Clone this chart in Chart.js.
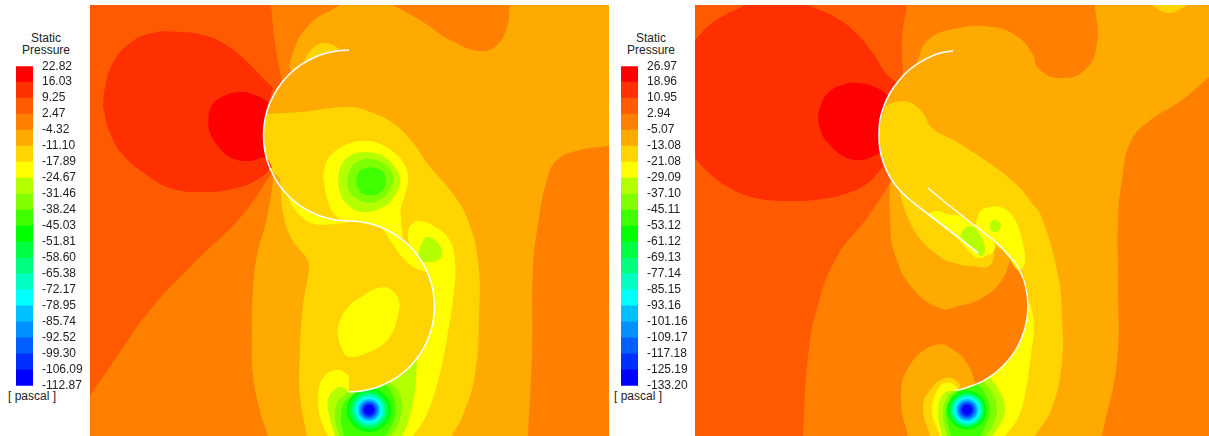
<!DOCTYPE html>
<html>
<head>
<meta charset="utf-8">
<script src="https://cdn.jsdelivr.net/npm/chart.js@4"></script>
<style>
body { margin: 0; background: #fff; width: 1209px; height: 436px; overflow: hidden; position: relative; }
canvas { position: absolute; }
.txt { position: absolute; font: 12px/11.5px "Liberation Sans", Arial, sans-serif; color: #222; text-align: center; white-space: nowrap; }
</style>
</head>
<body>
<div class="txt" style="left:16px;top:33px;width:60px">Static<br>Pressure</div>
<div class="txt" style="left:2px;top:391px;width:60px">[ pascal ]</div>
<div class="txt" style="left:621px;top:33px;width:60px">Static<br>Pressure</div>
<div class="txt" style="left:608px;top:391px;width:60px">[ pascal ]</div>
<canvas id="legendA" width="90" height="352" style="left:0;top:50px"></canvas>
<canvas id="legendB" width="90" height="352" style="left:605px;top:50px"></canvas>
<canvas id="fieldA" width="519" height="431" style="left:90px;top:5px"></canvas>
<canvas id="fieldB" width="514" height="431" style="left:695px;top:5px"></canvas>
<script>
// legend levels, top to bottom
const ticksA = ['22.82','16.03','9.25','2.47','-4.32','-11.10','-17.89','-24.67','-31.46','-38.24','-45.03','-51.81','-58.60','-65.38','-72.17','-78.95','-85.74','-92.52','-99.30','-106.09','-112.87'];
const ticksB = ['26.97','18.96','10.95','2.94','-5.07','-13.08','-21.08','-29.09','-37.10','-45.11','-53.12','-61.12','-69.13','-77.14','-85.15','-93.16','-101.16','-109.17','-117.18','-125.19','-133.20'];
const bands = ['#ff0000','#ff3000','#ff5a00','#ff8000','#ffaa00','#ffd400','#ffff00','#b4ff00','#80ff00','#40ff00','#00ff00','#00ff40','#00ff80','#00ffc0','#00ffff','#00c0ff','#0090ff','#0060ff','#0030ff','#0000ff'];

// contour outlines, in the x / y units of each panel. a repeated point is a corner
const aBlade = [[349,50],[337.8,50.7],[326.9,52.9],[316.3,56.5],[301.5,64.4],[288.5,75],[277.9,88],[270,102.8],[265.1,118.8],[263.5,135.5],[265.1,152.2],[270,168.2],[277.9,183],[288.5,196],[301.5,206.6],[316.3,214.5],[326.9,218.1],[337.8,220.3],[349,221],[360.2,221.7],[371.1,223.9],[381.7,227.5],[396.5,235.4],[409.5,246],[420.1,259],[428,273.8],[432.9,289.8],[434.5,306.5],[432.9,323.2],[428,339.2],[420.1,354],[409.5,367],[396.5,377.6],[381.7,385.5],[371.1,389.1],[360.2,391.3],[349,392]];
const aBase = [[90,5],[609,5],[609,436],[90,436]];
const aAmber = [[340,5],[340,5],[393,5],[393,5],[423,22],[450,40],[480,51],[497,45],[507,27],[510,5],[510,5],[609,5],[609,5],[609,146],[609,146],[580,150],[557,160],[547,180],[539,218],[533,268],[532,351],[528,436],[528,436],[268,436],[268,436],[260,411],[253,375],[252,335],[253,291],[257,255],[267,218],[274,175],[274,175],[270,168],[263.5,135.5],[270,103],[288.5,75],[292,73],[292,73],[290,63],[307,27],[340,5]];
const aGold = [[265,114],[265,114],[300,112],[350,107],[370,112],[393,123],[413,143],[430,167],[450,190],[467,218],[478,261],[479,318],[475,375],[463,415],[452,436],[452,436],[307,436],[307,436],[300,395],[300,351],[303,305],[308,275],[308,261],[293,241],[284,218],[280,178],[280,178],[270,168],[263.5,135.5],[265,114]];
const aBump = [[302,65],[302,65],[313,48],[327,43],[340,49],[340,49],[316,56],[302,65]];
const aCrescent = [[288,197],[288,197],[292,205],[303,218],[315,224],[335,224],[349,222],[349,222],[316,214.5],[288,197]];
const aDisc = [[323,177],[326,163],[333,153],[350,143],[363,141],[380,144],[397,155],[406,168],[408,180],[405,195],[401,207],[401,218],[403,238],[403,238],[381.7,227.5],[349,221],[335,215],[327,198],[323,177]];
const aDiscLime = [[338,177],[342,164],[350,156],[365,152],[382,156],[394,166],[400,180],[394,197],[383,207],[363,212],[348,205],[340,192],[338,177]];
const aDiscGrass = [[347,180],[351,168],[359,161],[370,159],[383,163],[391,171],[393,180],[388,193],[380,200],[368,203],[356,198],[349,190],[347,180]];
const aDiscGreen = [[356,181],[359,172],[366,168],[375,168],[383,172],[386,181],[382,191],[373,195],[363,194],[358,188],[356,181]];
const aWake = [[409.5,246],[409.5,246],[408,232],[412,224],[420,221],[437,228],[450,241],[455,261],[454,291],[447,338],[438,381],[425,418],[413,436],[413,436],[390,436],[390,436],[390,380],[409.5,367],[428,339],[434.5,306.5],[428,273.7],[409.5,246]];
const aWakeLime = [[418,255],[422,243],[428,237],[438,243],[442,253],[438,260],[427,262],[420,260],[418,255]];
const aLowYellow = [[328,436],[328,436],[321,420],[318,400],[323,378],[337,370],[348,375],[355,383],[352,392],[352,392],[370,395],[370,436],[328,436]];
const aLowLime = [[417,360],[417,360],[415,390],[408,423],[402,436],[402,436],[335,436],[335,436],[329,415],[328,400],[334,390],[342,387],[349,392],[349,392],[381.7,385.5],[409.5,367],[417,360]];
const aLowGrass = [[339,436],[339,436],[335,418],[337,403],[344,395],[349,392],[349,392],[380,378],[380,378],[396,388],[402,405],[398,425],[391,436],[391,436],[339,436]];
const aLowLeaf = [[344,436],[344,436],[341,418],[343,405],[349,397],[349,397],[380,378],[380,378],[391,392],[396,410],[392,425],[385,436],[385,436],[344,436]];
const aRingCentre = { x: 369, y: 410 };
const aRingSizes = [22,19.5,17,15,13,11,9.5,8,6.5,5];
const aInner = [...aBlade.slice(18), [349,392], [349,221]];
const aStreak = [[381.7,227.5],[381.7,227.5],[392,243],[403,258],[415,268],[424,271],[428,273.7],[428,273.7],[420.1,259],[409.5,246],[396.5,235.4],[381.7,227.5]];
const aCore = [[385,287],[393,291],[399,301],[398,315],[392,333],[382,345],[367,353],[350,357],[343,351],[338,335],[340,321],[350,305],[363,296],[375,289],[385,287]];
const aDark = [[90,5],[90,5],[271,5],[271,5],[275,43],[282,83],[282,83],[270,103],[263.5,135.5],[270,168],[272,173],[272,173],[240,218],[195,262],[150,310],[120,352],[90,396],[90,396],[90,5]];
const aHot = [[103,107],[105,87],[113,63],[130,43],[153,33],[180,32],[203,35],[223,43],[243,58],[260,75],[273,88],[273,88],[265,118],[263.5,135.5],[265,152],[272,167],[272,167],[260,178],[237,188],[200,192],[170,188],[147,175],[123,155],[110,133],[103,107]];
const aRed = [[208,123],[211,107],[222,97],[240,92],[255,95],[268,102],[268,102],[265,118],[263.5,135.5],[265,157],[265,157],[247,161],[230,157],[217,145],[210,133],[208,123]];

const bBladeOne = [[953,50.7],[937,54],[921.5,61.4],[909,70],[899,80.4],[890,93],[884,106],[880,120],[879,135],[880,150],[884,164],[890,177],[899,189.6],[909,199],[921.5,209],[950,231],[978,253]];
const bBladeTwo = [[928,188],[946,203],[965,218],[988,236],[1000,246],[1010,257],[1017,265],[1025,284],[1028,306],[1025,328],[1016.6,348.5],[1003,366],[985.5,379.6],[965,388.1],[955,390.5]];
const bBase = [[695,5],[1209,5],[1209,436],[695,436]];
const bAmber = [[917,62],[917,62],[928,40],[954,29],[992,27],[1018,37],[1033,55],[1038,68],[1058,78],[1085,70],[1097,43],[1095,5],[1095,5],[1209,5],[1209,5],[1209,77],[1209,77],[1182,100],[1148,122],[1130,143],[1122,180],[1118,218],[1118,285],[1117,361],[1102,436],[1102,436],[980,436],[980,436],[975,385.5],[975,385.5],[985.5,379.6],[1003,366],[1016.6,348.5],[1025,328],[1028,306],[1025,284],[1010,261],[1010,261],[1002,280],[982,298],[955,307],[942,309],[915,291],[895,255],[890,218],[890,177],[890,177],[884,164],[879,135],[884,106],[899,80.4],[917,62]];
const bTopGold = [[1152,5],[1152,5],[1168,13],[1188,5],[1188,5],[1152,5]];
const bLowAmber = [[908,436],[908,436],[901,401],[908,368],[935,345],[955,351],[968,365],[976,385],[976,385],[980,436],[980,436],[908,436]];
const bGold = [[885,107],[885,107],[892,103],[908,102],[922,112],[932,128],[955,141],[985,160],[1015,183],[1032,203],[1042,218],[1058,275],[1062,318],[1062,361],[1052,408],[1035,436],[1035,436],[985,436],[985,436],[975,385.5],[975,385.5],[985.5,379.6],[1003,366],[1016.6,348.5],[1025,328],[1028,306],[1025,284],[1010,257],[995,245],[995,245],[990,265],[970,266],[955,263],[942,258],[922,241],[908,218],[899,190],[899,190],[884,164],[879,135],[885,107]];
const bLowGold = [[930,436],[930,436],[923,408],[930,390],[945,378],[955,380],[960,386],[955,391],[955,391],[985,436],[985,436],[930,436]];
const bLobe = [[975,226],[975,226],[977,220],[980,212],[990,207],[1003,208],[1015,220],[1022,240],[1025,262],[1020,270],[1016,268],[1016,268],[1008,256],[988,236],[975,226]];
const bDot = [[990,226],[991,222],[995,220],[999,222],[1001,226],[999,230],[995,232],[991,230],[990,226]];
const bChannel = [[930,217],[930,217],[930,213],[938,211],[950,215],[958,215],[975,226],[988,236],[995,245],[993,252],[988,255],[978,258],[970,252],[950,231],[930,217]];
const bChannelLime = [[960,236],[960,236],[965,228],[973,227],[980,235],[985,248],[982,256],[977,253],[977,253],[960,236]];
const bWake = [[1030,303],[1030,303],[1034,325],[1030,361],[1025,395],[1018,418],[1005,436],[1005,436],[940,436],[940,436],[932,410],[940,386],[950,383],[957,388],[955,391],[955,391],[975,385.5],[985.5,379.6],[1003,366],[1016.6,348.5],[1025,328],[1028,306],[1030,303]];
const bLime = [[942,436],[942,436],[938,415],[941,398],[948,391],[955,391],[955,391],[975,385.5],[990,377],[990,377],[1000,392],[1005,408],[1000,425],[992,436],[992,436],[942,436]];
const bGrass = [[947,436],[947,436],[943,412],[948,396],[955,391],[955,391],[975,385.5],[983,381],[983,381],[992,392],[997,408],[993,425],[986,436],[986,436],[947,436]];
const bLeaf = [[951,436],[951,436],[946,412],[951,397],[957,391],[957,391],[975,385.5],[978,384],[978,384],[986,395],[990,410],[986,425],[980,436],[980,436],[951,436]];
const bRingCentre = { x: 967, y: 410 };
const bRingSizes = [19.5,17.5,16,14.5,13,11,9.5,8,6.5,5];
const bDark = [[695,5],[695,5],[907,5],[907,5],[902,40],[903,73],[903,73],[884,106],[879,135],[884,164],[892,180],[892,180],[867,218],[838,255],[818,305],[808,358],[803,436],[803,436],[695,436],[695,436],[695,5]];
const bHot = [[695,40],[695,40],[712,23],[745,5],[745,5],[808,5],[808,5],[835,17],[855,32],[872,52],[885,72],[897,83],[897,83],[884,106],[879,135],[883,167],[883,167],[868,183],[848,193],[822,199],[788,201],[755,198],[728,187],[708,172],[695,158],[695,158],[695,40]];
const bRed = [[818,120],[820,107],[828,93],[842,85],[858,83],[875,87],[888,95],[888,95],[880,120],[879,135],[880,153],[880,153],[862,160],[845,157],[828,143],[821,132],[818,120]];

// line elements only stroke, so the closed outlines get filled here
const fillShapes = {
    id: 'fillShapes',
    beforeDatasetDraw(chart, args) {
        const ds = chart.data.datasets[args.index];
        if (!ds.shape) return;
        const line = args.meta.dataset;
        const ctx = chart.ctx;
        line.updateControlPoints(chart.chartArea, 'x');
        ctx.save();
        ctx.beginPath();
        line.path(ctx);
        ctx.closePath();
        ctx.fillStyle = ds.backgroundColor;
        ctx.fill();
        ctx.restore();
    }
};

function toPoints(list) {
    return list.map(p => ({ x: p[0], y: p[1] }));
}

function shape(list, color) {
    return { type: 'scatter', shape: true, showLine: true, data: toPoints(list), backgroundColor: color, borderWidth: 0, pointRadius: 0, tension: 0.45 };
}

function blade(list, width) {
    return { type: 'scatter', showLine: true, data: toPoints(list), borderColor: '#fff', borderWidth: width, pointRadius: 0, tension: 0.4 };
}

function rings(centre, sizes, colors) {
    return sizes.map((r, i) => ({ type: 'bubble', data: [{ x: centre.x, y: centre.y, r: r }], backgroundColor: colors[i], borderWidth: 0 }));
}

function drawField(id, xMin, xMax, layers) {
    // chart.js paints the first dataset last, so order runs backwards
    layers.forEach((d, i) => { d.order = layers.length - i; });
    new Chart(document.getElementById(id).getContext('2d'), {
        data: { datasets: layers },
        plugins: [fillShapes],
        options: {
            animation: false,
            responsive: false,
            events: [],
            layout: { padding: 0, autoPadding: false },
            plugins: { legend: { display: false }, tooltip: { enabled: false } },
            scales: {
                x: { type: 'linear', display: false, min: xMin, max: xMax },
                y: { type: 'linear', display: false, min: 5, max: 436, reverse: true }
            }
        }
    });
}

function drawLegend(id, labels) {
    new Chart(document.getElementById(id).getContext('2d'), {
        type: 'bar',
        data: {
            labels: [''],
            datasets: bands.slice().reverse().map(c => ({ data: [1], backgroundColor: c, barPercentage: 1, categoryPercentage: 1 }))
        },
        options: {
            animation: false,
            responsive: false,
            events: [],
            layout: { padding: { left: 16, top: 4, bottom: 5, right: 0 }, autoPadding: false },
            plugins: { legend: { display: false }, tooltip: { enabled: false } },
            scales: {
                x: { stacked: true, display: false },
                y: {
                    stacked: true,
                    position: 'right',
                    min: 0,
                    max: 20,
                    afterFit: s => { s.width = 57; },
                    border: { display: false },
                    grid: { display: false, drawTicks: false },
                    ticks: {
                        stepSize: 1,
                        autoSkip: false,
                        padding: 9,
                        color: '#222',
                        font: { family: '"Liberation Sans", Arial, sans-serif', size: 12 },
                        callback: v => labels[20 - v]
                    }
                }
            }
        }
    });
}

const deep = bands.slice(10);

drawField('fieldA', 90, 609, [
    shape(aBase, '#ff8000'),
    shape(aAmber, '#ffaa00'),
    shape(aGold, '#ffd400'),
    shape(aBump, '#ffd400'),
    shape(aCrescent, '#ffff00'),
    shape(aDisc, '#ffff00'),
    shape(aDiscLime, '#b4ff00'),
    shape(aDiscGrass, '#80ff00'),
    shape(aDiscGreen, '#40ff00'),
    shape(aWake, '#ffff00'),
    shape(aWakeLime, '#b4ff00'),
    shape(aLowYellow, '#ffff00'),
    shape(aLowLime, '#b4ff00'),
    shape(aLowGrass, '#80ff00'),
    shape(aLowLeaf, '#40ff00'),
    ...rings(aRingCentre, aRingSizes, deep),
    shape(aInner, '#ffd400'),
    shape(aStreak, '#ffff00'),
    shape(aCore, '#ffff00'),
    shape(aDark, '#ff5a00'),
    shape(aHot, '#ff3000'),
    shape(aRed, '#ff0000'),
    blade(aBlade, 1.6)
]);

drawField('fieldB', 695, 1209, [
    shape(bBase, '#ff8000'),
    shape(bAmber, '#ffaa00'),
    shape(bTopGold, '#ffd400'),
    shape(bLowAmber, '#ffaa00'),
    shape(bGold, '#ffd400'),
    shape(bLowGold, '#ffd400'),
    shape(bLobe, '#ffff00'),
    shape(bDot, '#b4ff00'),
    shape(bChannel, '#ffff00'),
    shape(bChannelLime, '#b4ff00'),
    shape(bWake, '#ffff00'),
    shape(bLime, '#b4ff00'),
    shape(bGrass, '#80ff00'),
    shape(bLeaf, '#40ff00'),
    ...rings(bRingCentre, bRingSizes, deep),
    shape(bDark, '#ff5a00'),
    shape(bHot, '#ff3000'),
    shape(bRed, '#ff0000'),
    blade(bBladeOne, 1.6),
    blade(bBladeTwo, 1.4)
]);

drawLegend('legendA', ticksA);
drawLegend('legendB', ticksB);
</script>
</body>
</html>
